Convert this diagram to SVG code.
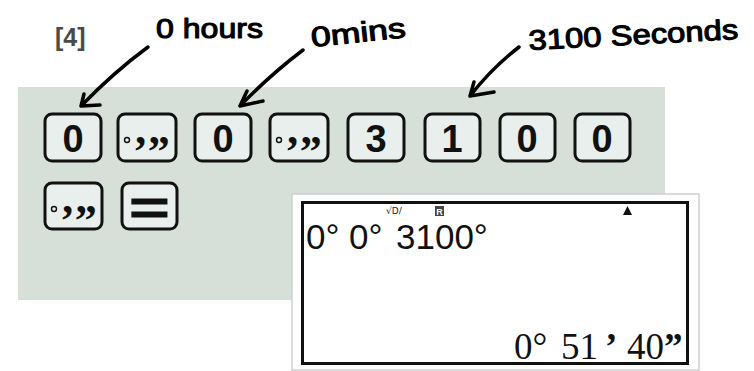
<svg xmlns="http://www.w3.org/2000/svg" width="754" height="371" viewBox="0 0 754 371">
<style>
.key{fill:#e9efec;stroke:#111;stroke-width:3}
.kd{font-family:"Liberation Sans",Arial,sans-serif;font-weight:bold;font-size:38px;fill:#111;text-anchor:middle}
.dms{font-family:"Liberation Serif","Times New Roman",serif;font-weight:bold;font-size:44px;fill:#111}
.hand{font-family:"Liberation Sans",Arial,sans-serif;font-size:28px;fill:#000;stroke:#000;stroke-width:1.1;stroke-linejoin:round}
.arrow{fill:none;stroke:#000;stroke-width:3.5;stroke-linecap:round;stroke-linejoin:round}
.lcd{font-family:"Liberation Sans",Arial,sans-serif;font-size:35px;fill:#111}
.res{font-family:"Liberation Serif","Times New Roman",serif;font-size:37px;fill:#111}
</style>
<rect width="754" height="371" fill="#fff"/>
<text id="qnum" x="55" y="46" font-family="Liberation Sans,Arial,sans-serif" font-weight="bold" font-size="25" fill="#4a4a4a">[4]</text>
<g id="panel"><rect x="18" y="87" width="647" height="213" fill="#d6e0d8"/></g>
<g id="key-0a"><rect class="key" x="45" y="114" width="56" height="47" rx="7"/><text class="kd" x="73" y="152">0</text></g>
<g id="key-dms1"><rect class="key" x="118" y="114" width="58" height="47" rx="7"/><circle cx="127" cy="140" r="2.5" fill="none" stroke="#111" stroke-width="1.4"/><text class="dms" x="133" y="166">’”</text></g>
<g id="key-0b"><rect class="key" x="195" y="114" width="56" height="47" rx="7"/><text class="kd" x="223" y="152">0</text></g>
<g id="key-dms2"><rect class="key" x="270" y="114" width="58" height="47" rx="7"/><circle cx="279" cy="140" r="2.5" fill="none" stroke="#111" stroke-width="1.4"/><text class="dms" x="285" y="166">’”</text></g>
<g id="key-3"><rect class="key" x="348" y="114" width="56" height="47" rx="7"/><text class="kd" x="376" y="152">3</text></g>
<g id="key-1"><rect class="key" x="425" y="114" width="55" height="47" rx="7"/><text class="kd" x="452" y="152">1</text></g>
<g id="key-0c"><rect class="key" x="500" y="114" width="55" height="47" rx="7"/><text class="kd" x="527" y="152">0</text></g>
<g id="key-0d"><rect class="key" x="575" y="114" width="55" height="47" rx="7"/><text class="kd" x="602" y="152">0</text></g>
<g id="key-dms3"><rect class="key" x="45" y="183" width="57" height="46" rx="7"/><circle cx="54" cy="209" r="2.5" fill="none" stroke="#111" stroke-width="1.4"/><text class="dms" x="60" y="235">’”</text></g>
<g id="key-eq"><rect class="key" x="122" y="183" width="55" height="46" rx="7"/><text x="149.5" y="224" font-family="Liberation Sans,Arial,sans-serif" font-weight="bold" font-size="46" fill="#111" stroke="#111" stroke-width="1" text-anchor="middle" transform="translate(149.5 0) scale(1.5 1) translate(-149.5 0)">=</text></g>
<g id="screen">
<rect x="292" y="194" width="407" height="176" fill="#fff" stroke="#d0d0d0" stroke-width="1.5"/>
<rect x="302.5" y="202.5" width="385" height="161" fill="#fff" stroke="#111" stroke-width="3"/>
<text x="386" y="214" font-family="DejaVu Sans,sans-serif" font-size="9" fill="#222">√D/</text>
<rect x="435" y="206" width="9" height="10" fill="#444"/>
<text x="439.5" y="214.5" font-family="Liberation Sans,Arial,sans-serif" font-size="9" font-weight="bold" fill="#fff" text-anchor="middle">R</text>
<polygon points="623,215 632,215 627.5,206" fill="#111"/>
<text class="lcd" y="249"><tspan x="306">0°</tspan><tspan x="349">0°</tspan><tspan x="396">3100°</tspan></text>
<text class="res" y="359"><tspan x="514">0°</tspan><tspan x="561">51</tspan><tspan x="605" font-weight="bold">’</tspan><tspan x="627">40</tspan><tspan font-weight="bold">”</tspan></text>
</g>
<g id="labels">
<text class="hand" x="156" y="38" textLength="107" lengthAdjust="spacingAndGlyphs">0 hours</text>
<text class="hand" x="312" y="47" textLength="95" lengthAdjust="spacingAndGlyphs" transform="rotate(-6 312 47)">0mins</text>
<text class="hand" x="529" y="50" textLength="210" lengthAdjust="spacingAndGlyphs" transform="rotate(-3 529 50)">3100 Seconds</text>
</g>
<g id="connectors">
<path class="arrow" d="M148,47 Q114,72 81,106 M81,106 L100,105 M81,106 L84,94"/>
<path class="arrow" d="M303,50 Q270,75 240,106 M240,106 L263,101 M240,106 L247,91"/>
<path class="arrow" d="M519,47 Q492,68 470,96 M470,96 L494,92 M470,96 L474,82"/>
</g>
</svg>
